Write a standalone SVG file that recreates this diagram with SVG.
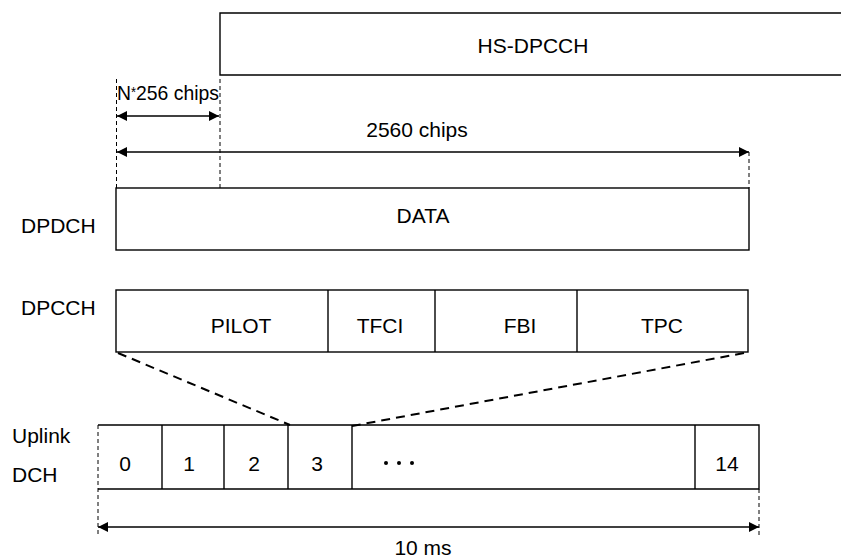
<svg xmlns="http://www.w3.org/2000/svg" width="841" height="559" viewBox="0 0 841 559">
<style>
text{font-family:"Liberation Sans",Arial,sans-serif;font-size:21px;fill:#000}
.m{text-anchor:middle}
.box{fill:none;stroke:#000;stroke-width:1.4}
.vd{fill:none;stroke:#000;stroke-width:1;stroke-dasharray:4,3}
.dd{fill:none;stroke:#000;stroke-width:2;stroke-dasharray:9,6}
.ar{fill:none;stroke:#000;stroke-width:1.4}
</style>
<defs>
<marker id="ah" viewBox="0 0 10 10" refX="10" refY="5" markerWidth="10" markerHeight="10" markerUnits="userSpaceOnUse" orient="auto-start-reverse">
<path d="M0,0 L10,5 L0,10 Z" fill="#000"/>
</marker>
</defs>
<rect width="841" height="559" fill="#fff"/>
<g id="hs-dpcch">
<path class="box" d="M841,13 H220 V75 H841"/>
<text class="m" x="533" y="53">HS-DPCCH</text>
</g>
<g id="dpdch">
<rect class="box" x="116" y="188" width="633" height="62"/>
<text x="21" y="233">DPDCH</text>
<text class="m" x="423" y="223">DATA</text>
</g>
<g id="dpcch">
<rect class="box" x="116" y="290" width="632" height="62"/>
<line class="box" x1="328" y1="290" x2="328" y2="352"/>
<line class="box" x1="435" y1="290" x2="435" y2="352"/>
<line class="box" x1="577" y1="290" x2="577" y2="352"/>
<text x="21" y="315">DPCCH</text>
<text class="m" x="241" y="333">PILOT</text>
<text class="m" x="380" y="333">TFCI</text>
<text class="m" x="520" y="333">FBI</text>
<text class="m" x="662" y="333">TPC</text>
</g>
<g id="uplink-dch">
<path class="box" d="M98,425 H759 V489 H98"/>
<line class="box" x1="162" y1="425" x2="162" y2="489"/>
<line class="box" x1="224" y1="425" x2="224" y2="489"/>
<line class="box" x1="288" y1="425" x2="288" y2="489"/>
<line class="box" x1="352" y1="425" x2="352" y2="489"/>
<line class="box" x1="695" y1="425" x2="695" y2="489"/>
<text x="12" y="443">Uplink</text>
<text x="12" y="482">DCH</text>
<text class="m" x="125" y="471">0</text>
<text class="m" x="189" y="471">1</text>
<text class="m" x="254" y="471">2</text>
<text class="m" x="317" y="471">3</text>
<g fill="#000"><circle cx="386" cy="463" r="2"/><circle cx="399" cy="463" r="2"/><circle cx="412" cy="463" r="2"/></g>
<text class="m" x="727" y="471">14</text>
</g>
<g id="connectors">
<line class="vd" x1="116.5" y1="79" x2="116.5" y2="188"/>
<line class="vd" x1="220" y1="79" x2="220" y2="188"/>
<line class="vd" x1="749" y1="152" x2="749" y2="188"/>
<line class="vd" x1="98" y1="425" x2="98" y2="536"/>
<line class="vd" x1="759" y1="489" x2="759" y2="536"/>
<line class="ar" x1="117" y1="116" x2="219" y2="116" marker-start="url(#ah)" marker-end="url(#ah)"/>
<line class="ar" x1="117" y1="152" x2="749" y2="152" marker-start="url(#ah)" marker-end="url(#ah)"/>
<line class="ar" x1="98" y1="527" x2="759" y2="527" marker-start="url(#ah)" marker-end="url(#ah)"/>
<line class="dd" x1="118" y1="353" x2="290" y2="425"/>
<line class="dd" x1="744" y1="353" x2="352" y2="426"/>
<text x="117" y="100" textLength="102" lengthAdjust="spacingAndGlyphs">N<tspan font-size="14" dy="-3">*</tspan><tspan dy="3">256 chips</tspan></text>
<text class="m" x="417" y="137">2560 chips</text>
<text class="m" x="423" y="555">10 ms</text>
</g>
</svg>
